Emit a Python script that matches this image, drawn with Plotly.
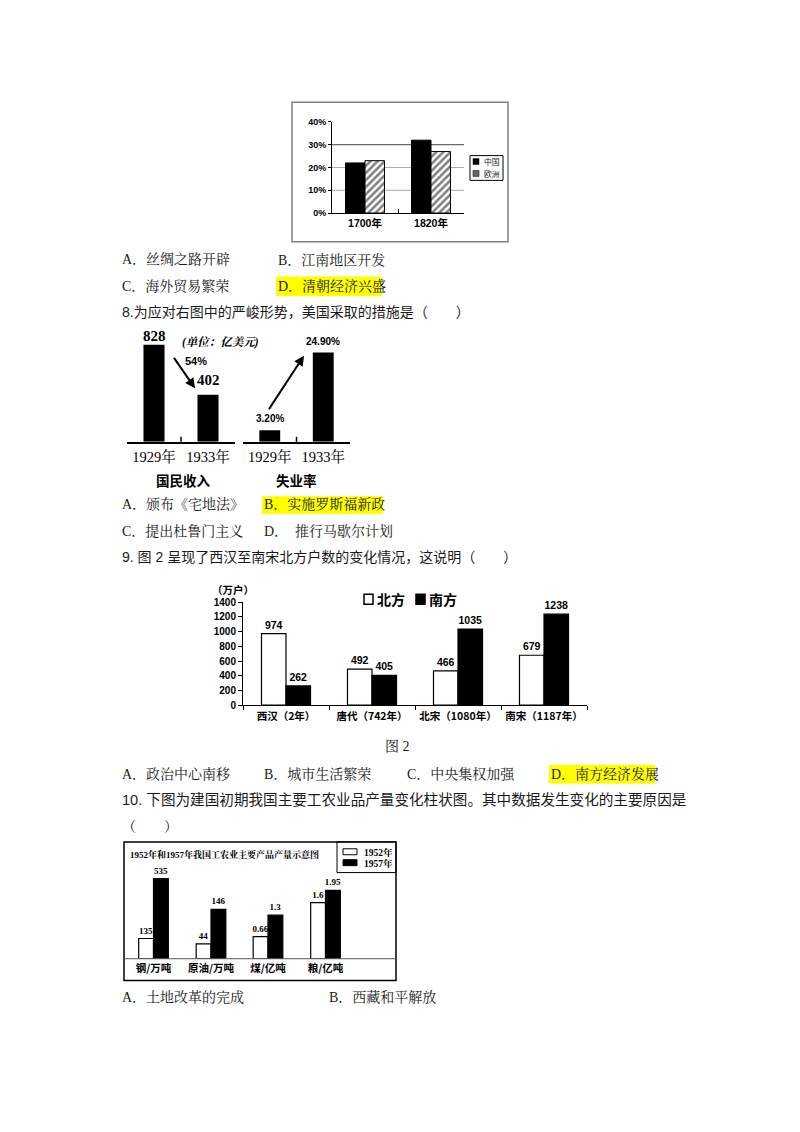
import plotly.graph_objects as go

W, H = 800, 1132
PAGE_MARGIN = 8  # default body margin of the html page around the figure


def X(p):
    return (p - PAGE_MARGIN) / W


def Y(p):
    return 1 - (p - PAGE_MARGIN) / H


# ---------------- data ----------------
# Q7 chart
years_q7 = ["1700年", "1820年"]
china_share = [22, 32]
europe_share = [23, 27]
share_ticks = [0, 10, 20, 30, 40]
share_tick_text = ["0%", "10%", "20%", "30%", "40%"]
share_grid = [10, 20, 30]

# Q8 charts
years_q8 = ["1929年", "1933年"]
national_income = [828, 402]
income_labels = ["828", "402"]
unemployment = [3.2, 24.9]
unemployment_labels = ["3.20%", "24.90%"]

# Q9 chart
dynasties = ["西汉（2年）", "唐代（742年）", "北宋（1080年）", "南宋（1187年）"]
north_households = [974, 492, 466, 679]
south_households = [262, 405, 1035, 1238]
household_ticks = [0, 200, 400, 600, 800, 1000, 1200, 1400]

# Q10 chart
products = ["钢/万吨", "原油/万吨", "煤/亿吨", "粮/亿吨"]
output_1952 = [135, 44, 0.66, 1.6]
output_1957 = [535, 146, 1.3, 1.95]
output_labels_1952 = ["135", "44", "0.66", "1.6"]
output_labels_1957 = ["535", "146", "1.3", "1.95"]
product_ranges = [[0, 608], [0, 269], [0, 2.72], [0, 2.6]]

# ---------------- fonts ----------------
SERIF = "Liberation Serif, Noto Serif CJK SC, Noto Sans CJK SC"
SANS = "Liberation Sans, Noto Sans CJK SC"
CJK = "Noto Sans CJK SC"
TXT = "#1a1a1a"

fig = go.Figure()
annotations = []
shapes = []


def note(x, y, text, size=14, family=SERIF, anchor="left", color=TXT, **kw):
    annotations.append(dict(x=X(x), y=Y(y), xref="paper", yref="paper", text=text,
                            showarrow=False, xanchor=anchor, yanchor="middle",
                            font=dict(family=family, size=size, color=color), **kw))


def rect(x0, y0, x1, y1, fill="rgba(0,0,0,0)", line="black", lw=1, layer="below"):
    shapes.append(dict(type="rect", xref="paper", yref="paper", x0=X(x0), x1=X(x1),
                       y0=Y(y0), y1=Y(y1), fillcolor=fill,
                       line=dict(color=line, width=lw), layer=layer))


# ---------------- highlights ----------------
rect(276, 273, 382, 293, fill="#ffff00", line="rgba(0,0,0,0)", lw=0)
rect(262, 495, 383, 513, fill="#ffff00", line="rgba(0,0,0,0)", lw=0)
rect(549, 766, 655, 785, fill="#ffff00", line="rgba(0,0,0,0)", lw=0)

# ---------------- body text ----------------
note(120, 256, "A．丝绸之路开辟")
note(276, 256, "B．江南地区开发")
note(120, 283, "C．海外贸易繁荣")
note(276, 283, "D．清朝经济兴盛")
note(120, 309, "8.为应对右图中的严峻形势，美国采取的措施是（　　）", family=SANS)
note(120, 503, "A．颁布《宅地法》")
note(262, 503, "B．实施罗斯福新政")
note(120, 530, "C．提出杜鲁门主义")
note(262, 530, "D．　推行马歇尔计划")
note(120, 556, "9. 图 2 呈现了西汉至南宋北方户数的变化情况，这说明（　　）", family=SANS)
note(397, 748, "图 2", anchor="center")
note(120, 775, "A．政治中心南移")
note(262, 775, "B．城市生活繁荣")
note(405, 775, "C．中央集权加强")
note(549, 775, "D．南方经济发展")
note(120, 802, "10. 下图为建国初期我国主要工农业品产量变化柱状图。其中数据发生变化的主要原因是",
     family=SANS, size=14.6)
note(120, 828, "（　　）")
note(120, 1001, "A．土地改革的完成")
note(327, 1001, "B．西藏和平解放")

# ---------------- chart 1 (Q7) ----------------
rect(292, 97, 508, 238, line="#808080", lw=1.5)
fig.add_trace(go.Bar(x=years_q7, y=china_share, xaxis="x", yaxis="y",
                     width=0.295, offset=-0.295,
                     marker=dict(color="black", line=dict(color="black", width=1)),
                     showlegend=False, hoverinfo="skip"))
fig.add_trace(go.Bar(x=years_q7, y=europe_share, xaxis="x", yaxis="y",
                     width=0.295, offset=0,
                     marker=dict(color="white",
                                 pattern=dict(shape="/", fgcolor="black", bgcolor="white",
                                              size=5, solidity=0.5),
                                 line=dict(color="black", width=1)),
                     showlegend=False, hoverinfo="skip"))
for g in share_grid:
    shapes.append(dict(type="line", xref="x domain", yref="y", x0=0, x1=1, y0=g, y1=g,
                       line=dict(color="#444" if g == 30 else "#aaa", width=1), layer="below"))
# legend
rect(470, 151, 503, 176, fill="white", line="black", lw=1)
rect(473, 154, 479, 160, fill="black", line="black", lw=0.5)
rect(473, 166, 479, 172, fill="#666", line="black", lw=0.5)
note(482, 157, "中国", size=7.8, family=CJK)
note(482, 169, "欧洲", size=7.8, family=CJK)

# ---------------- chart 2 (Q8) ----------------
fig.add_trace(go.Bar(x=years_q8, y=national_income, xaxis="x2", yaxis="y2",
                     width=0.39, marker=dict(color="black", line=dict(width=0)),
                     showlegend=False, hoverinfo="skip"))
fig.add_trace(go.Bar(x=years_q8, y=unemployment, xaxis="x3", yaxis="y3",
                     width=0.39, marker=dict(color="black", line=dict(width=0)),
                     showlegend=False, hoverinfo="skip"))
for cat, val, lab, shift in zip(years_q8, national_income, income_labels, [-1, 5]):
    annotations.append(dict(x=cat, y=val, xref="x2", yref="y2", text="<b>%s</b>" % lab,
                            showarrow=False, yanchor="bottom", yshift=shift,
                            font=dict(family=SERIF, size=15, color="black")))
for cat, val, lab in zip(years_q8, unemployment, unemployment_labels):
    annotations.append(dict(x=cat, y=val, xref="x3", yref="y3", text="<b>%s</b>" % lab,
                            showarrow=False, yanchor="bottom", yshift=4,
                            font=dict(family=SANS, size=10, color="black")))
note(220, 340, "<b><i>(单位：亿美元)</i></b>", size=11.5, family=SERIF, anchor="center", color="black")
note(196, 358, "<b>54%</b>", size=11, family=SANS, anchor="center", color="black")
annotations.append(dict(x=X(195), y=Y(386), xref="paper", yref="paper", text="",
                        showarrow=True, ax=-22, ay=-32, arrowhead=2, arrowsize=1,
                        arrowwidth=2, arrowcolor="black"))
annotations.append(dict(x=X(304), y=Y(353), xref="paper", yref="paper", text="",
                        showarrow=True, ax=-36, ay=55, arrowhead=2, arrowsize=1,
                        arrowwidth=2, arrowcolor="black"))
note(183, 479, "<b>国民收入</b>", size=13.5, family=CJK, anchor="center", color="black")
note(296, 479, "<b>失业率</b>", size=13.5, family=CJK, anchor="center", color="black")
for xr in ["x2 domain", "x3 domain"]:
    shapes.append(dict(type="line", xref=xr, yref="paper", x0=0.5, x1=0.5,
                       y0=Y(440), y1=Y(435), line=dict(color="black", width=1.5)))

# ---------------- chart 3 (Q9) ----------------
fig.add_trace(go.Bar(x=dynasties, y=north_households, xaxis="x4", yaxis="y4",
                     width=0.285, offset=-0.285,
                     marker=dict(color="white", line=dict(color="black", width=1.2)),
                     text=[str(v) for v in north_households], textposition="outside",
                     constraintext="none", cliponaxis=False,
                     outsidetextfont=dict(family=SANS, size=10.5, color="black", weight="bold"),
                     showlegend=False, hoverinfo="skip"))
fig.add_trace(go.Bar(x=dynasties, y=south_households, xaxis="x4", yaxis="y4",
                     width=0.285, offset=0,
                     marker=dict(color="black", line=dict(color="black", width=1.2)),
                     text=[str(v) for v in south_households], textposition="outside",
                     constraintext="none", cliponaxis=False,
                     outsidetextfont=dict(family=SANS, size=10.5, color="black", weight="bold"),
                     showlegend=False, hoverinfo="skip"))
note(233, 589, "<b>（万户）</b>", size=10.5, family=CJK, anchor="center", color="black")
rect(364, 594, 373, 604, fill="white", line="black", lw=1.5)
note(375, 599, "<b>北方</b>", size=14, family=CJK, color="black")
rect(416, 594, 425, 604, fill="black", line="black", lw=1.5)
note(427, 599, "<b>南方</b>", size=14, family=CJK, color="black")

# ---------------- chart 4 (Q10) ----------------
rect(124, 844, 396, 984, line="black", lw=1.5)
rect(337, 844, 396, 875, line="black", lw=1)
shapes.append(dict(type="line", xref="paper", yref="paper", x0=X(124), x1=X(396),
                   y0=Y(962), y1=Y(962), line=dict(color="#555", width=1)))
note(128, 857, "<b>1952年和1957年我国工农业主要产品产量示意图</b>", size=9, family=SERIF, color="black")
rect(343, 851, 357, 857, fill="white", line="black", lw=1)
note(362, 855, "<b>1952年</b>", size=9.5, family=SERIF, color="black")
rect(343, 862, 357, 868, fill="black", line="black", lw=1)
note(362, 866, "<b>1957年</b>", size=9.5, family=SERIF, color="black")

domains4 = [(125, 182), (182.5, 239.5), (239.5, 296.5), (297, 354)]
for i in range(4):
    ax_n = i + 5
    xa = "x%d" % ax_n
    ya = "y%d" % ax_n
    fig.add_trace(go.Bar(x=[products[i]], y=[output_1952[i]], xaxis=xa, yaxis=ya,
                         width=0.26, offset=-0.26,
                         marker=dict(color="white", line=dict(color="black", width=1.2)),
                         text=[output_labels_1952[i]], textposition="outside",
                         constraintext="none", cliponaxis=False,
                         outsidetextfont=dict(family=SERIF, size=9, color="black", weight="bold"),
                         showlegend=False, hoverinfo="skip"))
    fig.add_trace(go.Bar(x=[products[i]], y=[output_1957[i]], xaxis=xa, yaxis=ya,
                         width=0.26, offset=0,
                         marker=dict(color="black", line=dict(color="black", width=1.2)),
                         text=[output_labels_1957[i]], textposition="outside",
                         constraintext="none", cliponaxis=False,
                         outsidetextfont=dict(family=SERIF, size=9, color="black", weight="bold"),
                         showlegend=False, hoverinfo="skip"))

# ---------------- layout ----------------
layout = dict(
    width=W, height=H, autosize=False,
    margin=dict(l=0, r=0, t=0, b=0),
    paper_bgcolor="white", plot_bgcolor="rgba(0,0,0,0)",
    barmode="group", showlegend=False,
    annotations=annotations, shapes=shapes,
)

layout["xaxis"] = dict(domain=[X(332), X(464)], anchor="y", type="category", range=[-0.5, 1.5],
                       showline=True, linecolor="black", linewidth=1,
                       ticks="inside", tickson="boundaries", ticklen=4, tickcolor="black",
                       tickangle=0, ticklabelstandoff=0,
                       tickfont=dict(family=SANS, size=10.5, color="black", weight="bold"),
                       showgrid=False, zeroline=False, fixedrange=True)
layout["yaxis"] = dict(domain=[Y(209), Y(117)], anchor="x", range=[0, 40],
                       tickvals=share_ticks, ticktext=share_tick_text,
                       showline=True, linecolor="black", linewidth=1,
                       ticks="outside", ticklen=3, tickcolor="black",
                       tickfont=dict(family=SANS, size=9, color="black", weight="bold"),
                       showgrid=False, zeroline=False, fixedrange=True)

for xa, ya, dom, rng in [("xaxis2", "yaxis2", (127, 235), [0, 930]),
                         ("xaxis3", "yaxis3", (243, 350), [0, 30.4])]:
    layout[xa] = dict(domain=[X(dom[0]), X(dom[1])], anchor=ya.replace("axis", ""),
                      type="category", range=[-0.5, 1.5],
                      showline=True, linecolor="black", linewidth=2, ticks="",
                      tickangle=0, ticklabelstandoff=1,
                      tickfont=dict(family=SERIF, size=14.5, color="black"),
                      showgrid=False, zeroline=False, fixedrange=True)
    layout[ya] = dict(domain=[Y(440), Y(330)], anchor=xa.replace("axis", ""), range=rng,
                      visible=False, fixedrange=True)

layout["xaxis4"] = dict(domain=[X(243), X(587)], anchor="y4", type="category", range=[-0.5, 3.5],
                        showline=True, linecolor="black", linewidth=1,
                        ticks="outside", tickson="boundaries", ticklen=4, tickcolor="black",
                        tickangle=0, ticklabelstandoff=1,
                        tickfont=dict(family=CJK, size=10.5, color="black", weight="bold"),
                        showgrid=False, zeroline=False, fixedrange=True)
layout["yaxis4"] = dict(domain=[Y(706), Y(602)], anchor="x4", range=[0, 1400],
                        tickvals=household_ticks,
                        showline=True, linecolor="black", linewidth=1,
                        ticks="outside", ticklen=4, tickcolor="black",
                        tickfont=dict(family=SANS, size=10, color="black", weight="bold"),
                        showgrid=False, zeroline=False, fixedrange=True)

for i in range(4):
    n = i + 5
    d = domains4[i]
    layout["xaxis%d" % n] = dict(domain=[X(d[0]), X(d[1])], anchor="y%d" % n,
                                 type="category", range=[-0.5, 0.5],
                                 showline=False, ticks="", tickangle=0, ticklabelstandoff=2,
                                 tickfont=dict(family=CJK, size=10.5, color="black", weight="bold"),
                                 showgrid=False, zeroline=False, fixedrange=True)
    layout["yaxis%d" % n] = dict(domain=[Y(962), Y(870)], anchor="x%d" % n,
                                 range=product_ranges[i], visible=False, fixedrange=True)

fig.update_layout(**layout)
fig.write_html("out.html")
